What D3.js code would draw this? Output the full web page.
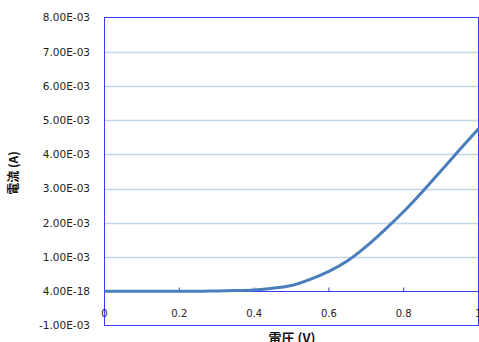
<!DOCTYPE html>
<html><head><meta charset="utf-8">
<script src="https://cdn.jsdelivr.net/npm/d3@7"></script>
<style>body{margin:0;background:#fff;overflow:hidden}svg{display:block}</style>
</head><body>
<svg id="c" width="479" height="342"></svg>
<script>
const voltage = [0,0.05,0.1,0.15,0.2,0.25,0.3,0.35,0.4,0.45,0.5,0.55,0.6,0.65,0.7,0.75,0.8,0.85,0.9,0.95,1.0];
const current = [0,0,0,0,0,0,0.00001,0.00002,0.00004,0.00009,0.00017,0.00035,0.00058,0.00089,0.00131,0.00180,0.00233,0.00291,0.00352,0.00414,0.00475];
const yTicks = [-0.001,0,0.001,0.002,0.003,0.004,0.005,0.006,0.007,0.008];
const yTickLabels = ["-1.00E-03","4.00E-18","1.00E-03","2.00E-03","3.00E-03","4.00E-03","5.00E-03","6.00E-03","7.00E-03","8.00E-03"];
const xTicks = [0,0.2,0.4,0.6,0.8,1];
const xTickLabels = ["0","0.2","0.4","0.6","0.8","1"];
const xTitle = "電圧 (V)";
const yTitle = "電流 (A)";

const svg = d3.select("#c");
const L=104.5, R=478.5, T=17.5, B=325.5;
const x = d3.scaleLinear().domain([0,1]).range([L,R]);
const y = d3.scaleLinear().domain([-0.001,0.008]).range([B,T]);

// gridlines
svg.append("g").selectAll("line").data(yTicks.filter(v=>v>-0.001 && v<0.008 && v!==0)).join("line")
  .attr("x1",L).attr("x2",R).attr("y1",d=>Math.round(y(d))+0.5).attr("y2",d=>Math.round(y(d))+0.5)
  .attr("stroke","#c3d5ee").attr("stroke-width",1.3);

// plot border
svg.append("rect").attr("x",L).attr("y",T).attr("width",R-L).attr("height",B-T)
  .attr("fill","none").attr("stroke","#3a3aff").attr("stroke-width",1);

// x axis at zero
const y0 = Math.round(y(0))+0.5;
svg.append("line").attr("x1",L).attr("x2",R).attr("y1",y0).attr("y2",y0).attr("stroke","#3a3aff").attr("stroke-width",1.2);
svg.append("g").selectAll("line").data(xTicks).join("line")
  .attr("x1",d=>x(d)).attr("x2",d=>x(d)).attr("y1",y0).attr("y2",y0-4)
  .attr("stroke","#3a3aff").attr("stroke-width",1);

// y labels
svg.append("g").selectAll("text").data(yTicks).join("text")
  .attr("x",90).attr("y",d=>y(d)).attr("dy","0.36em").attr("text-anchor","end")
  .attr("font-family","DejaVu Sans, Verdana, sans-serif").attr("font-size",10.5).attr("fill","#222")
  .text((d,i)=>yTickLabels[i]);

// x labels
svg.append("g").selectAll("text").data(xTicks).join("text")
  .attr("x",d=>x(d)).attr("y",317).attr("text-anchor","middle")
  .attr("font-family","DejaVu Sans, Verdana, sans-serif").attr("font-size",10).attr("fill","#222")
  .text((d,i)=>xTickLabels[i]);

// curve
const line = d3.line().x((d,i)=>x(voltage[i])).y(d=>y(d)).curve(d3.curveMonotoneX);
svg.append("path").datum(current).attr("d",line).attr("fill","none")
  .attr("stroke","#4a7ebb").attr("stroke-width",3).attr("stroke-linejoin","round");

// titles
svg.append("text").attr("x",292).attr("y",343).attr("text-anchor","middle")
  .attr("font-family","Noto Sans CJK JP, sans-serif").attr("font-weight","bold").attr("font-size",13).attr("fill","#111")
  .text(xTitle);
svg.append("text").attr("transform","translate(18,173) rotate(-90)").attr("text-anchor","middle")
  .attr("font-family","Noto Sans CJK JP, sans-serif").attr("font-weight","bold").attr("font-size",12).attr("fill","#111")
  .text(yTitle);
</script>
</body></html>
